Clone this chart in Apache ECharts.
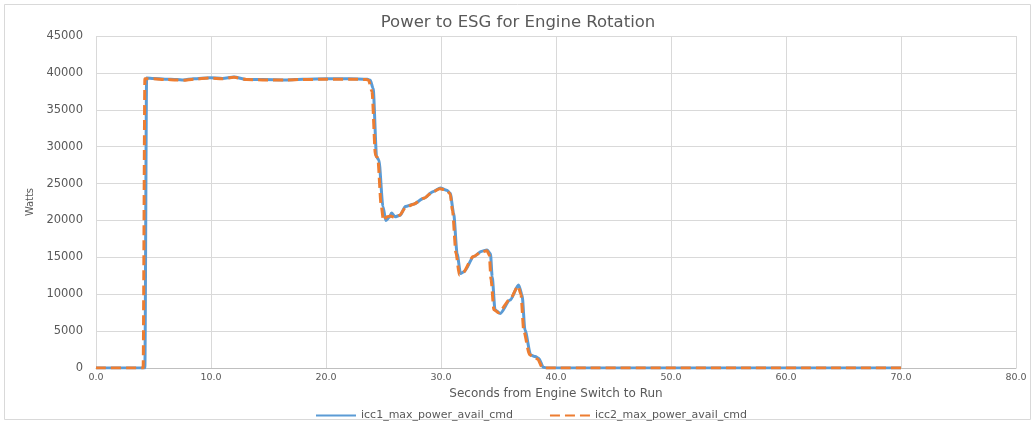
<!DOCTYPE html>
<html><head><meta charset="utf-8">
<script src="https://cdn.jsdelivr.net/npm/echarts@6/dist/echarts.min.js"></script>
<style>html,body{margin:0;padding:0;background:#fff}#c{width:1036px;height:423px}</style>
</head><body><div id="c"></div>
<script>
const titleText = "Power to ESG for Engine Rotation";
const xAxisName = "Seconds from Engine Switch to Run";
const yAxisName = "Watts";
const series1Name = "icc1_max_power_avail_cmd";
const series2Name = "icc2_max_power_avail_cmd";

const icc1X = [0,4.25,4.4,5,6,7,7.6,8.5,9.9,11,12,13.1,14.5,16.6,18,20.1,22,23.6,23.85,24.1,24.4,24.6,24.95,25.2,25.5,25.7,26.0,26.45,26.9,27.6,28.5,29.3,29.95,30.5,30.8,31.1,31.4,31.7,32.0,32.85,33.5,34.0,34.3,34.45,34.7,35.15,36.0,36.75,37.05,37.3,37.8,38.2,38.5,38.9,39.2,70];
const icc1Y = [0,0,39300,39250,39150,39100,39050,39200,39350,39250,39450,39100,39100,39050,39150,39200,39200,39150,39000,37900,28600,28200,21900,20000,20400,21000,20500,20700,21900,22200,23000,23900,24400,24100,23700,21000,15500,12800,13050,15100,15800,16000,15500,12400,7850,7400,9200,11250,9900,5150,1750,1550,1300,100,0,0];

const icc2X = [0,4.1,4.25,5,6,7,7.6,8.5,9.9,11,12,13.1,14.5,16.6,18,20.1,22,23.5,23.7,24.0,24.3,24.5,24.8,25.0,25.3,25.6,26.0,26.4,26.9,27.6,28.5,29.3,29.9,30.5,30.8,31.0,31.3,31.6,31.9,32.8,33.5,34.0,34.2,34.35,34.6,35.0,36.0,36.7,36.95,37.2,37.7,38.1,38.4,38.8,39.1,70];
const icc2Y = [0,0,39200,39200,39100,39050,39000,39150,39300,39200,39400,39100,39050,39050,39100,39150,39150,39100,39000,37500,28800,28500,22000,20000,20500,20600,20400,20700,21700,22200,23000,23900,24300,24100,23600,21300,15600,12600,12900,15100,15700,15900,15300,12000,7900,7500,9300,11100,10000,5000,1800,1500,1200,100,0,0];

const xTicks = {min:0, max:80, interval:10};
const yTicks = {min:0, max:45000, interval:5000};

const pair = (xs, ys) => xs.map((x,i)=>[x, ys[i]]);
const font = "'DejaVu Sans', sans-serif";
const chart = echarts.init(document.getElementById('c'));
chart.setOption({
  animation:false,
  backgroundColor:'#fff',
  graphic:[{type:'rect', shape:{x:4.5,y:4.5,width:1026,height:415}, style:{fill:'none', stroke:'#d9d9d9', lineWidth:1}, silent:true}],
  title:{text:titleText, left:'center', top:9, textStyle:{fontFamily:font, fontSize:16.5, fontWeight:'normal', color:'#595959'}},
  legend:{top:405, left:310, itemWidth:40, itemHeight:12, itemGap:36,
    itemStyle:{opacity:0, borderWidth:0},
    textStyle:{fontFamily:font, fontSize:11, color:'#595959'},
    data:[{name:series1Name}, {name:series2Name}]},
  grid:{left:96, right:20, top:36, bottom:55},
  xAxis:{type:'value', min:xTicks.min, max:xTicks.max, interval:xTicks.interval,
    name:xAxisName, nameLocation:'middle', nameGap:10,
    nameTextStyle:{fontFamily:font, fontSize:12, color:'#595959'},
    axisLabel:{formatter:v=>v.toFixed(1), fontFamily:font, fontSize:9.5, color:'#595959', margin:5},
    axisLine:{lineStyle:{color:'#bfbfbf'}}, axisTick:{show:false},
    splitLine:{lineStyle:{color:'#d9d9d9'}}},
  yAxis:{type:'value', min:yTicks.min, max:yTicks.max, interval:yTicks.interval,
    name:yAxisName, nameLocation:'middle', nameGap:55, nameRotate:90,
    nameTextStyle:{fontFamily:"'Liberation Sans Narrow', 'DejaVu Sans Condensed', sans-serif", fontSize:11, color:'#595959'},
    axisLabel:{formatter:v=>String(v), fontFamily:font, fontSize:11.5, color:'#595959', margin:13},
    axisLine:{show:false}, axisTick:{show:false},
    splitLine:{lineStyle:{color:'#d9d9d9'}}},
  series:[
    {name:series1Name, type:'line', data:pair(icc1X, icc1Y), showSymbol:false, symbol:'none', smooth:0.25, smoothMonotone:'x',
      lineStyle:{color:'#5B9BD5', width:3}, itemStyle:{color:'#5B9BD5'}},
    {name:series2Name, type:'line', data:pair(icc2X, icc2Y), showSymbol:false, symbol:'none', smooth:0.25, smoothMonotone:'x',
      lineStyle:{color:'#ED7D31', width:3, type:[10,5]}, itemStyle:{color:'#ED7D31'}}
  ]
});
</script></body></html>
